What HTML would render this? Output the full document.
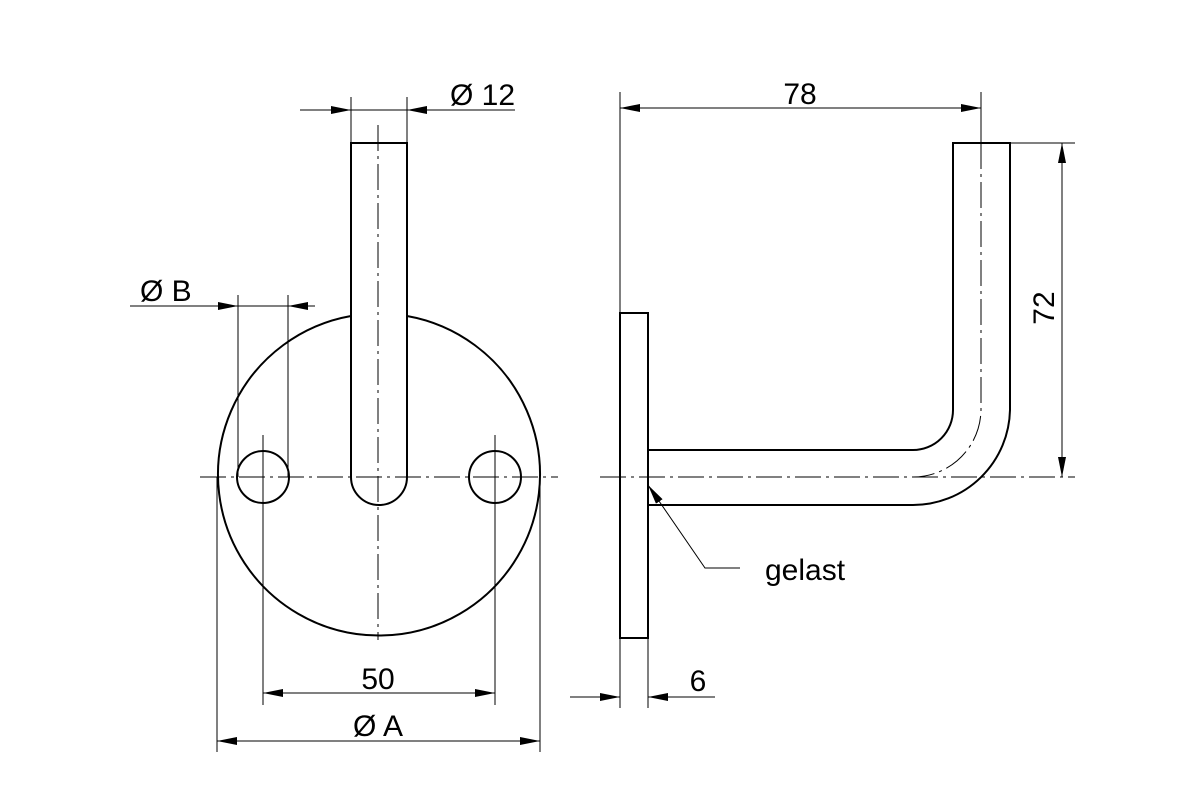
<!DOCTYPE html>
<html><head><style>body{margin:0;background:#fff}svg{display:block}</style></head><body>
<svg width="1200" height="800" viewBox="0 0 1200 800" xmlns="http://www.w3.org/2000/svg" font-family="Liberation Sans Narrow, Liberation Sans, sans-serif">
<defs>
<marker id="a" viewBox="0 0 20 8" refX="20" refY="4" markerWidth="20" markerHeight="8" markerUnits="userSpaceOnUse" orient="auto"><path d="M0,0 L20,4 L0,8 z" fill="#000"/></marker>
</defs>
<g fill="none" stroke="#000">
<path d="M351,316 A161,161 0 1 0 407,316" stroke-width="2"/>
<path d="M351,143 H407 V477 A28,28 0 0 1 351,477 Z" stroke-width="2"/>
<circle cx="263" cy="477" r="26" stroke-width="2"/>
<circle cx="495" cy="477" r="26" stroke-width="2"/>
<g stroke-width="1" stroke-dasharray="26,5,3,5">
<line x1="200" y1="477" x2="558" y2="477"/>
<line x1="378" y1="125" x2="378" y2="640"/>
</g>
<g stroke-width="1">
<line x1="263" y1="435" x2="263" y2="705"/>
<line x1="495" y1="435" x2="495" y2="705"/>
<line x1="351" y1="97" x2="351" y2="143"/><line x1="407" y1="97" x2="407" y2="143"/>
<line x1="300" y1="110" x2="351" y2="110" marker-end="url(#a)"/>
<line x1="515" y1="110" x2="407" y2="110" marker-end="url(#a)"/>
<line x1="351" y1="110" x2="407" y2="110"/>
<line x1="238" y1="295" x2="238" y2="477"/><line x1="288" y1="295" x2="288" y2="477"/>
<line x1="130" y1="306" x2="238" y2="306" marker-end="url(#a)"/>
<line x1="315" y1="306" x2="288" y2="306" marker-end="url(#a)"/>
<line x1="238" y1="306" x2="288" y2="306"/>
<line x1="380" y1="693" x2="263" y2="693" marker-end="url(#a)"/>
<line x1="380" y1="693" x2="495" y2="693" marker-end="url(#a)"/>
<line x1="217" y1="477" x2="217" y2="752"/><line x1="540" y1="477" x2="540" y2="752"/>
<line x1="380" y1="741" x2="217" y2="741" marker-end="url(#a)"/>
<line x1="380" y1="741" x2="540" y2="741" marker-end="url(#a)"/>
</g>
<rect x="620" y="313" width="28" height="325" stroke-width="2"/>
<path d="M648,450 H913 A40,40 0 0 0 953,410 V143 H1010 V410 A97,97 0 0 1 913,505 H648" stroke-width="2"/>
<g stroke-width="1" stroke-dasharray="26,5,3,5">
<line x1="600" y1="477" x2="1075" y2="477"/>
<path d="M981,143 V410 A68,68 0 0 1 913,477"/>
</g>
<g stroke-width="1">
<line x1="981" y1="92" x2="981" y2="143"/>
<line x1="620" y1="92" x2="620" y2="708"/><line x1="648" y1="638" x2="648" y2="708"/>
<line x1="800" y1="108" x2="620" y2="108" marker-end="url(#a)"/>
<line x1="800" y1="108" x2="981" y2="108" marker-end="url(#a)"/>
<line x1="1010" y1="143" x2="1075" y2="143"/>
<line x1="1062" y1="310" x2="1062" y2="143" marker-end="url(#a)"/>
<line x1="1062" y1="310" x2="1062" y2="477" marker-end="url(#a)"/>
<line x1="570" y1="697" x2="620" y2="697" marker-end="url(#a)"/>
<line x1="715" y1="697" x2="648" y2="697" marker-end="url(#a)"/>
<polyline points="740,568 705,568 648,485" marker-end="url(#a)" />
</g>
</g>
<g font-size="30" fill="#000">
<text x="450" y="105">Ø 12</text>
<text x="140" y="301">Ø B</text>
<text x="378" y="689" text-anchor="middle">50</text>
<text x="378" y="736" text-anchor="middle">Ø A</text>
<text x="800" y="104" text-anchor="middle">78</text>
<text x="698" y="691" text-anchor="middle">6</text>
<text transform="translate(1054,308) rotate(-90)" text-anchor="middle">72</text>
<text x="765" y="580" font-size="30" font-family="Liberation Sans, sans-serif">gelast</text>
</g>
</svg>
</body></html>
